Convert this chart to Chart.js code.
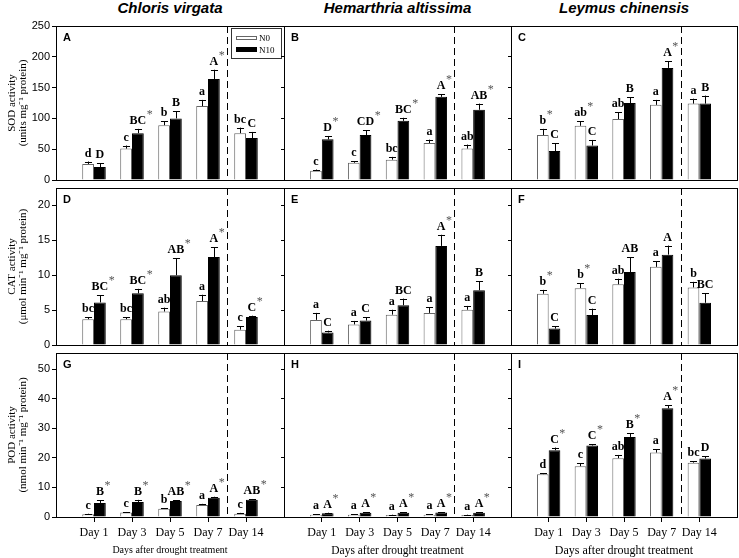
<!DOCTYPE html>
<html>
<head>
<meta charset="utf-8">
<script src="https://cdn.jsdelivr.net/npm/chart.js@4.4.1/dist/chart.umd.min.js"></script>
<style>
  html, body { margin: 0; padding: 0; background: #fff; }
  #fig { position: relative; width: 739px; height: 558px; overflow: hidden; }
  #fig canvas { position: absolute; }
  .species { position: absolute; top: 0; height: 18px; font: italic bold 15px "Liberation Sans", Arial, sans-serif; line-height: 15px; text-align: center; color: #000; }
</style>
</head>
<body>
<div id="fig"></div>
<script>
const days = ['Day 1', 'Day 3', 'Day 5', 'Day 7', 'Day 14'];
const seriesNames = ['N0', 'N10'];
const species = ['Chloris virgata', 'Hemarthria altissima', 'Leymus chinensis'];
const panelLetters = ['A', 'B', 'C', 'D', 'E', 'F', 'G', 'H', 'I'];
const yTitles = [
  ['SOD activity', '(units mg\u207B\u00B9 protein)'],
  ['CAT activity', '(\u03BCmol min\u207B\u00B9 mg\u207B\u00B9 protein)'],
  ['POD activity', '(nmol min\u207B\u00B9 mg\u207B\u00B9 protein)']
];
const yMax = [250, 22.5, 55.5];
const yStep = [50, 5, 10];
const xTitle = 'Days after drought treatment';

// SOD
const sodChlorisN0 = [26, 51, 89, 120, 76];
const sodChlorisN0Err = [4, 5, 6, 10, 9];
const sodChlorisN10 = [21, 76, 100, 164, 68];
const sodChlorisN10Err = [6, 7, 12, 15, 10];
const sodChlorisN0Sig = ['d', 'c', 'b', 'a', 'bc'];
const sodChlorisN10Sig = ['D', 'BC*', 'B', 'A*', 'C'];

const sodHemN0 = [15, 28, 33, 60, 51];
const sodHemN0Err = [2, 2.5, 4.5, 5.5, 6.5];
const sodHemN10 = [66, 73, 96, 135, 114];
const sodHemN10Err = [5.5, 8, 5, 4, 10];
const sodHemN0Sig = ['c', 'c', 'bc', 'a', 'ab'];
const sodHemN10Sig = ['D*', 'CD*', 'BC*', 'A*', 'AB*'];

const sodLeyN0 = [73, 88, 99, 122, 124];
const sodLeyN0Err = [10, 7, 11, 8, 8];
const sodLeyN10 = [47, 56, 125, 182, 124];
const sodLeyN10Err = [13, 9, 9, 11, 13];
const sodLeyN0Sig = ['b*', 'ab*', 'ab', 'a', 'a'];
const sodLeyN10Sig = ['C', 'C', 'B', 'A*', 'B'];

// CAT
const catChlorisN0 = [3.7, 3.7, 4.8, 6.3, 2.2];
const catChlorisN0Err = [0.25, 0.25, 0.55, 0.9, 0.5];
const catChlorisN10 = [6.1, 7.4, 10.0, 12.6, 4.0];
const catChlorisN10Err = [1.0, 0.65, 2.45, 1.4, 0.2];
const catChlorisN0Sig = ['bc', 'bc', 'ab', 'a', 'c'];
const catChlorisN10Sig = ['BC*', 'BC*', 'AB*', 'A*', 'C*'];

const catHemN0 = [3.6, 2.95, 4.35, 4.6, 5.05];
const catHemN0Err = [1.0, 0.5, 0.7, 0.8, 0.55];
const catHemN10 = [1.8, 3.5, 5.7, 14.2, 7.85];
const catHemN10Err = [0.25, 0.45, 0.95, 1.6, 1.3];
const catHemN0Sig = ['a', 'a', 'a', 'a', 'a'];
const catHemN10Sig = ['C', 'C', 'BC', 'A*', 'B'];

const catLeyN0 = [7.35, 8.15, 8.7, 11.2, 8.25];
const catLeyN0Err = [0.55, 0.7, 0.8, 0.8, 0.8];
const catLeyN10 = [2.35, 4.3, 10.45, 12.95, 6.05];
const catLeyN10Err = [0.35, 0.9, 2.1, 1.3, 1.35];
const catLeyN0Sig = ['b*', 'b*', 'ab', 'a', 'b'];
const catLeyN10Sig = ['C', 'C', 'AB', 'A', 'BC'];

// POD
const podChlorisN0 = [0.9, 1.5, 2.8, 4.1, 1.1];
const podChlorisN0Err = [0.2, 0.2, 0.2, 0.35, 0.3];
const podChlorisN10 = [4.75, 5.1, 5.4, 6.55, 5.8];
const podChlorisN10Err = [0.9, 0.7, 0.3, 0.3, 0.3];
const podChlorisN0Sig = ['c', 'c', 'b', 'a', 'c'];
const podChlorisN10Sig = ['B*', 'B*', 'AB*', 'A*', 'AB*'];

const podHemN0 = [0.8, 0.8, 0.7, 0.8, 0.7];
const podHemN0Err = [0.1, 0.1, 0.1, 0.1, 0.1];
const podHemN10 = [1.3, 1.4, 1.4, 1.5, 1.4];
const podHemN10Err = [0.15, 0.15, 0.15, 0.15, 0.15];
const podHemN0Sig = ['a', 'a', 'a', 'a', 'a'];
const podHemN10Sig = ['A*', 'A*', 'A*', 'A*', 'A*'];

const podLeyN0 = [14.5, 17.2, 19.9, 21.8, 18.4];
const podLeyN0Err = [0.3, 1.0, 1.1, 1.1, 0.55];
const podLeyN10 = [22.6, 24.2, 27.1, 36.8, 19.8];
const podLeyN10Err = [0.9, 0.35, 1.25, 1.1, 0.7];
const podLeyN0Sig = ['d', 'c', 'ab', 'a', 'bc'];
const podLeyN10Sig = ['C*', 'C*', 'B*', 'A*', 'D'];

// one row per enzyme, one column per species
const panels = [
  [sodChlorisN0, sodChlorisN0Err, sodChlorisN0Sig, sodChlorisN10, sodChlorisN10Err, sodChlorisN10Sig],
  [sodHemN0, sodHemN0Err, sodHemN0Sig, sodHemN10, sodHemN10Err, sodHemN10Sig],
  [sodLeyN0, sodLeyN0Err, sodLeyN0Sig, sodLeyN10, sodLeyN10Err, sodLeyN10Sig],
  [catChlorisN0, catChlorisN0Err, catChlorisN0Sig, catChlorisN10, catChlorisN10Err, catChlorisN10Sig],
  [catHemN0, catHemN0Err, catHemN0Sig, catHemN10, catHemN10Err, catHemN10Sig],
  [catLeyN0, catLeyN0Err, catLeyN0Sig, catLeyN10, catLeyN10Err, catLeyN10Sig],
  [podChlorisN0, podChlorisN0Err, podChlorisN0Sig, podChlorisN10, podChlorisN10Err, podChlorisN10Sig],
  [podHemN0, podHemN0Err, podHemN0Sig, podHemN10, podHemN10Err, podHemN10Sig],
  [podLeyN0, podLeyN0Err, podLeyN0Sig, podLeyN10, podLeyN10Err, podLeyN10Sig]
];

// layout of the plot boxes (pixels)
const colEdges = [56, 284, 511, 737];
const rowEdges = [26, 188, 353, 517];
const xTitleSize = [10, 11.5, 12];

const SERIF = '"Liberation Serif", "Times New Roman", serif';
const SANS = '"Liberation Sans", Arial, sans-serif';

const pad = arr => [null, ...arr, null];
const fig = document.getElementById('fig');

species.forEach((name, c) => {
  const d = document.createElement('div');
  d.className = 'species';
  d.style.left = colEdges[c] + 'px';
  d.style.width = (colEdges[c + 1] - colEdges[c]) + 'px';
  d.textContent = name;
  fig.appendChild(d);
});

function decorPlugin(idx) {
  return {
    id: 'decor' + idx,
    afterDatasetsDraw(chart) {
      const { ctx, chartArea: a, scales: { x, y } } = chart;
      ctx.save();
      // error bars + significance letters
      chart.data.datasets.forEach((ds, di) => {
        const meta = chart.getDatasetMeta(di);
        meta.data.forEach((el, i) => {
          const v = ds.data[i];
          if (v == null) return;
          const top = y.getPixelForValue(v + ds.errors[i]);
          const xc = Math.round(el.x) + 0.5;
          const cap = el.width * 0.3;
          ctx.strokeStyle = '#000';
          ctx.lineWidth = 1;
          ctx.beginPath();
          ctx.moveTo(xc, el.y);
          ctx.lineTo(xc, top);
          ctx.moveTo(xc - cap, Math.round(top) + 0.5);
          ctx.lineTo(xc + cap, Math.round(top) + 0.5);
          ctx.stroke();

          const lab = ds.sig[i];
          const txt = lab.replace('*', '');
          const base = top - 5;
          ctx.font = 'bold 12px ' + SERIF;
          ctx.fillStyle = '#000';
          ctx.textAlign = 'center';
          ctx.textBaseline = 'alphabetic';
          ctx.fillText(txt, el.x, base);
          if (lab.endsWith('*')) {
            const w = ctx.measureText(txt).width;
            ctx.font = '12px ' + SERIF;
            ctx.fillStyle = '#555';
            ctx.textAlign = 'left';
            ctx.fillText('*', el.x + w / 2 + 0.5, base - 6);
          }
        });
      });
      // dashed separator between Day 7 and Day 14
      const xd = Math.round(x.getPixelForValue(4.5)) + 0.5;
      ctx.strokeStyle = '#000';
      ctx.setLineDash([7, 4]);
      ctx.beginPath();
      ctx.moveTo(xd, a.top);
      ctx.lineTo(xd, a.bottom);
      ctx.stroke();
      ctx.setLineDash([]);
      // frame
      ctx.strokeRect(Math.round(a.left) + 0.5, Math.round(a.top) + 0.5,
        Math.round(a.right - a.left), Math.round(a.bottom - a.top));
      // panel letter
      ctx.font = 'bold 11px ' + SANS;
      ctx.fillStyle = '#000';
      ctx.textAlign = 'left';
      ctx.fillText(panelLetters[idx], a.left + 7, a.top + 15);
      // legend box in first panel
      if (idx === 0) {
        const lx = a.right - 53, ly = a.top + 2;
        ctx.strokeStyle = '#333';
        ctx.strokeRect(lx + 0.5, ly + 0.5, 50, 30);
        ctx.fillStyle = '#fff';
        ctx.strokeStyle = '#666';
        ctx.fillRect(lx + 5, ly + 8, 20, 3);
        ctx.strokeRect(lx + 5.5, ly + 8.5, 20, 3);
        ctx.fillStyle = '#000';
        ctx.fillRect(lx + 5, ly + 19, 21, 5);
        ctx.font = '9px ' + SERIF;
        ctx.fillText(seriesNames[0], lx + 28, ly + 13);
        ctx.fillText(seriesNames[1], lx + 28, ly + 25);
      }
      ctx.restore();
    }
  };
}

panels.forEach((p, idx) => {
  const r = Math.floor(idx / 3), c = idx % 3;
  const pL = colEdges[c], pR = colEdges[c + 1], pT = rowEdges[r], pB = rowEdges[r + 1];
  const L = c === 0 ? 0 : pL - 8;
  const R = c === 2 ? 739 : pR + 8;
  const T = pT - 8;
  const B = r === 2 ? 558 : pB + 8;

  const cv = document.createElement('canvas');
  cv.width = R - L;
  cv.height = B - T;
  cv.style.left = L + 'px';
  cv.style.top = T + 'px';
  fig.appendChild(cv);

  const [n0, n0Err, n0Sig, n10, n10Err, n10Sig] = p;

  new Chart(cv, {
    type: 'bar',
    data: {
      labels: ['', ...days, ''],
      datasets: [{
        label: seriesNames[0],
        data: pad(n0),
        errors: pad(n0Err),
        sig: pad(n0Sig),
        backgroundColor: '#fff',
        borderColor: '#666',
        borderWidth: 1
      }, {
        label: seriesNames[1],
        data: pad(n10),
        errors: pad(n10Err),
        sig: pad(n10Sig),
        backgroundColor: '#000',
        borderColor: '#000',
        borderWidth: 1
      }]
    },
    options: {
      responsive: false,
      animation: false,
      events: [],
      categoryPercentage: 0.62,
      barPercentage: 1.0,
      layout: {
        autoPadding: false,
        padding: { left: 0, right: R - pR, top: pT - T, bottom: r === 2 ? 0 : B - pB }
      },
      plugins: {
        legend: { display: false },
        tooltip: { enabled: false }
      },
      scales: {
        x: {
          display: r === 2,
          offset: false,
          grid: {
            display: true,
            offset: false,
            drawOnChartArea: false,
            drawTicks: true,
            tickLength: 5,
            tickColor: ctx => (ctx.index === 0 || ctx.index === 6) ? 'rgba(0,0,0,0)' : '#000'
          },
          border: { display: false },
          ticks: {
            autoSkip: false,
            maxRotation: 0,
            padding: 4,
            color: '#000',
            font: { family: SERIF, size: 12 }
          },
          title: {
            display: true,
            text: xTitle,
            color: '#000',
            font: { family: SERIF, size: xTitleSize[c], lineHeight: 1.2 },
            padding: { top: 0, bottom: Math.max(0, 7.3 - xTitleSize[c] * 0.6) }
          },
          afterFit: s => {
            s.height = B - pB;
            s.paddingLeft = 0;
            s.paddingRight = 0;
          }
        },
        y: {
          min: 0,
          max: yMax[r],
          grid: {
            display: true,
            drawOnChartArea: false,
            drawTicks: true,
            tickLength: c === 0 ? 4 : 3,
            tickColor: '#000'
          },
          border: { display: false },
          ticks: {
            display: c === 0,
            stepSize: yStep[r],
            includeBounds: false,
            padding: 2,
            color: '#000',
            font: { family: SANS, size: 11 }
          },
          title: {
            display: c === 0,
            text: yTitles[r],
            color: '#000',
            font: { family: SERIF, size: 11, lineHeight: 1 },
            padding: { top: 6.5, bottom: 0 }
          },
          afterFit: s => {
            s.width = pL - L;
            s.paddingTop = 0;
            s.paddingBottom = 0;
          }
        }
      }
    },
    plugins: [decorPlugin(idx)]
  });
});
</script>
</body>
</html>
